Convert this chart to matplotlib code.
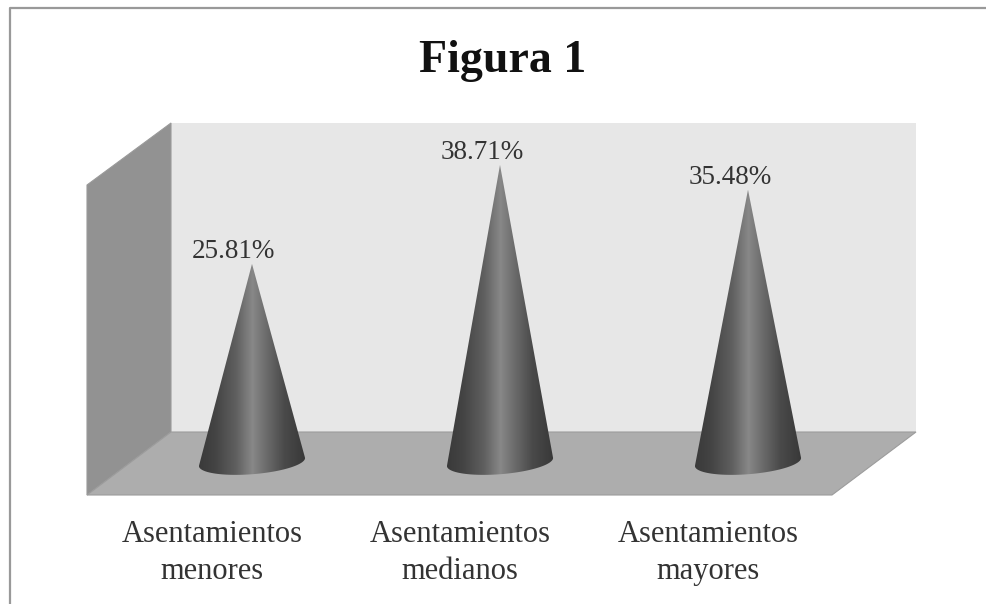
import numpy as np
import matplotlib
matplotlib.use('Agg')
import matplotlib.pyplot as plt
from matplotlib.patches import Polygon
from matplotlib.transforms import ScaledTranslation

title = 'Figura 1'
categories = ['Asentamientos\nmenores', 'Asentamientos\nmedianos', 'Asentamientos\nmayores']
values = [25.81, 38.71, 35.48]

W, H = 986, 604
plt.rcParams['font.family'] = ['Liberation Serif', 'DejaVu Serif']
fig = plt.figure(figsize=(W / 100, H / 100), dpi=100, facecolor='white')

# background layer in pixels for the 3d box
bg = fig.add_axes([0, 0, 1, 1])
bg.set_xlim(0, W)
bg.set_ylim(H, 0)
bg.axis('off')
bg.plot([10, 10, W], [H, 8, 8], color='#999999', lw=1.6)
bg.add_patch(Polygon([(171, 123), (916, 123), (916, 432), (171, 432)], fc='#e7e7e7', ec='none'))
bg.add_patch(Polygon([(87, 185), (171, 123), (171, 432), (87, 495)], fc='#929292', ec='#9a9a9a', lw=0.8))
bg.add_patch(Polygon([(171, 432), (916, 432), (832, 495), (87, 495)], fc='#adadad', ec='#9c9c9c', lw=0.8))

# data axes: x is the category index, y the percentage
left, right = 128, 872
bottom_px, top_px = 508, 155
ax = fig.add_axes([left / W, 1 - bottom_px / H, (right - left) / W, (bottom_px - top_px) / H])
ax.patch.set_alpha(0)
for s in ax.spines.values():
    s.set_visible(False)
ax.tick_params(length=0, pad=8.5, labelsize=22, colors='#333333')
ax.set_xticks(range(len(categories)))
ax.set_xticklabels(categories, linespacing=1.35)
ax.set_yticks([])

# the labels sit under the front edge of the floor, left of the cones
shift = ScaledTranslation(-40 / 100, 0, fig.dpi_scale_trans)
for lab in ax.get_xticklabels():
    lab.set_transform(lab.get_transform() + shift)

# cone base ellipse, slightly tilted
half_w = 0.214
half_h = 1.6
tilt = 0.52
grad = np.interp(np.linspace(0, 1, 256), [0, 0.15, 0.35, 0.5, 0.6, 0.8, 1],
                 [58, 68, 96, 136, 114, 74, 56])
grad = grad[None, :]

for i, v in enumerate(values):
    t = np.linspace(0, np.pi, 60)
    pts = [(i, v)] + list(zip(i - half_w * np.cos(t), -half_h * np.sin(t) - tilt * np.cos(t)))
    poly = Polygon(pts, closed=True, transform=ax.transData, fc='none', ec='none')
    ax.add_patch(poly)
    im = ax.imshow(grad, extent=[i - half_w, i + half_w, -4, v], cmap='gray', vmin=0, vmax=255,
                   aspect='auto', zorder=2, interpolation='bilinear')
    im.set_clip_path(poly)
    ax.text(i - 0.073, v, f'{v:.2f}%', ha='center', va='bottom', fontsize=19.5, color='#333333')

ax.set_xlim(-0.5, 2.5)
ax.set_ylim(-6, 40)

fig.text(503 / W, 1 - 61 / H, title, ha='center', va='center', fontsize=33, fontweight='bold', color='#111111')
fig.savefig('out.png', dpi=100)
